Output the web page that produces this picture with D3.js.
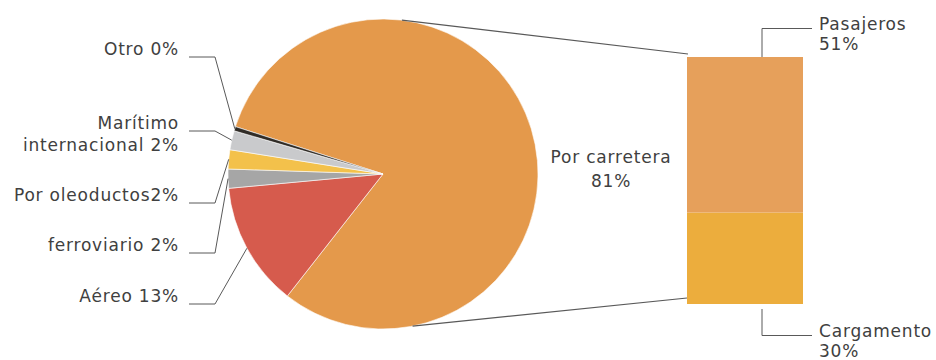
<!DOCTYPE html>
<html>
<head>
<meta charset="utf-8">
<script src="https://cdn.jsdelivr.net/npm/d3@7"></script>
<style>
  html, body { margin: 0; padding: 0; background: #fff; }
  svg { display: block; font-family: "DejaVu Sans", Verdana, sans-serif; letter-spacing: 0.8px; }
</style>
</head>
<body>
<svg id="chart" width="936" height="360"></svg>
<script>
// Transport modes (share of emissions, %)
const categories = ["Por carretera", "Aéreo", "ferroviario", "Por oleoductos", "Marítimo internacional", "Otro"];
const values = [81, 13, 2, 2, 2, 0.45];
const colors = ["#E4994B", "#D65B4D", "#A6A6A6", "#F3C14B", "#C9CACC", "#302C27"];

// Breakdown of road transport
const subCategories = ["Cargamento", "Pasajeros"];
const subValues = [30, 51];
const subColors = ["#ECAD3D", "#E6A05B"];

const svg = d3.select("#chart");
const textColor = "#404040";
const lineColor = "#595959";
const fontSize = 17;

const cx = 383, cy = 174, r = 155;
const fmt = v => Math.round(v) + "%";

const pie = d3.pie().sort(null).value(d => d.value)
  .startAngle(-72.2 * Math.PI / 180)
  .endAngle(-72.2 * Math.PI / 180 + 2 * Math.PI);
const data = categories.map((c, i) => ({ name: c, value: values[i], color: colors[i] }));
const arcs = pie(data);
const arc = d3.arc().innerRadius(0).outerRadius(r);

const g = svg.append("g").attr("transform", `translate(${cx},${cy})`);
g.selectAll("path").data(arcs).join("path")
  .attr("d", arc)
  .attr("fill", d => d.data.color)
  .attr("stroke", "#fff")
  .attr("stroke-width", 0.6);

// point on the pie rim for a d3 angle (radians, clockwise from 12 o'clock)
const rim = (a, rad = r) => [cx + rad * Math.sin(a), cy - rad * Math.cos(a)];

// Label for the big slice, inside
const road = arcs[0];
svg.append("text")
  .attr("x", 611).attr("y", 163)
  .attr("text-anchor", "middle").attr("fill", textColor).attr("font-size", fontSize)
  .selectAll("tspan").data([road.data.name, fmt(road.data.value)]).join("tspan")
  .attr("x", 611).attr("dy", (d, i) => i ? 24 : 0).text(d => d);

// Labels for the small slices, left side, with elbow leader lines
const leftLabels = [
  { idx: 5, y: 57, lines: ["Otro " + fmt(values[5])] },
  { idx: 4, y: 131, lines: ["Marítimo", "internacional " + fmt(values[4])] },
  { idx: 3, y: 203, lines: ["Por oleoductos" + fmt(values[3])] },
  { idx: 2, y: 253, lines: ["ferroviario " + fmt(values[2])] },
  { idx: 1, y: 304, lines: ["Aéreo " + fmt(values[1])] }
];
const textRight = 179, lineStart = 189, elbowX = 215;

leftLabels.forEach(l => {
  const a = arcs[l.idx];
  const mid = (a.startAngle + a.endAngle) / 2;
  const p = rim(mid);
  svg.append("polyline")
    .attr("points", [[lineStart, l.y], [elbowX, l.y], p].map(q => q.join(",")).join(" "))
    .attr("fill", "none").attr("stroke", lineColor).attr("stroke-width", 1);
  const t = svg.append("text")
    .attr("text-anchor", "end").attr("fill", textColor).attr("font-size", fontSize);
  const n = l.lines.length;
  l.lines.forEach((s, i) => {
    t.append("tspan").attr("x", textRight)
      .attr("y", l.y - 2 + (n === 2 ? i * 22 : 0))
      .text(s);
  });
});

// Stacked bar of the road breakdown
const barX = 687, barW = 116;
const y = d3.scaleLinear().domain([0, d3.sum(subValues)]).range([304, 57]);
let acc = 0;
const stack = subValues.map((v, i) => {
  const s = { name: subCategories[i], value: v, color: subColors[i], y0: acc, y1: acc + v };
  acc += v;
  return s;
});
svg.selectAll("rect.seg").data(stack).join("rect")
  .attr("class", "seg")
  .attr("x", barX).attr("width", barW)
  .attr("y", d => y(d.y1)).attr("height", d => y(d.y0) - y(d.y1))
  .attr("fill", d => d.color);

// Connector lines between pie and bar
const topPt = rim(7 * Math.PI / 180);
const botPt = rim(169 * Math.PI / 180);
svg.append("line")
  .attr("x1", topPt[0]).attr("y1", topPt[1])
  .attr("x2", barX + 1).attr("y2", y(d3.sum(subValues)) - 3)
  .attr("stroke", lineColor).attr("stroke-width", 1.2);
svg.append("line")
  .attr("x1", botPt[0]).attr("y1", botPt[1])
  .attr("x2", barX).attr("y2", y(0) - 6)
  .attr("stroke", lineColor).attr("stroke-width", 1.2);

// Bar labels
const leaderX = barX + 75, textX = 819;
const pas = stack[1], car = stack[0];
svg.append("polyline")
  .attr("points", [[leaderX, y(pas.y1)], [leaderX, 28.5], [812, 28.5]].map(q => q.join(",")).join(" "))
  .attr("fill", "none").attr("stroke", lineColor).attr("stroke-width", 1);
svg.append("polyline")
  .attr("points", [[leaderX, y(car.y0) + 5], [leaderX, 335.5], [812, 335.5]].map(q => q.join(",")).join(" "))
  .attr("fill", "none").attr("stroke", lineColor).attr("stroke-width", 1);

[[pas, 30], [car, 337]].forEach(([d, by]) => {
  const t = svg.append("text").attr("fill", textColor).attr("font-size", fontSize);
  t.append("tspan").attr("x", textX).attr("y", by).text(d.name);
  t.append("tspan").attr("x", textX).attr("y", by + 20).text(fmt(d.value));
});
</script>
</body>
</html>
